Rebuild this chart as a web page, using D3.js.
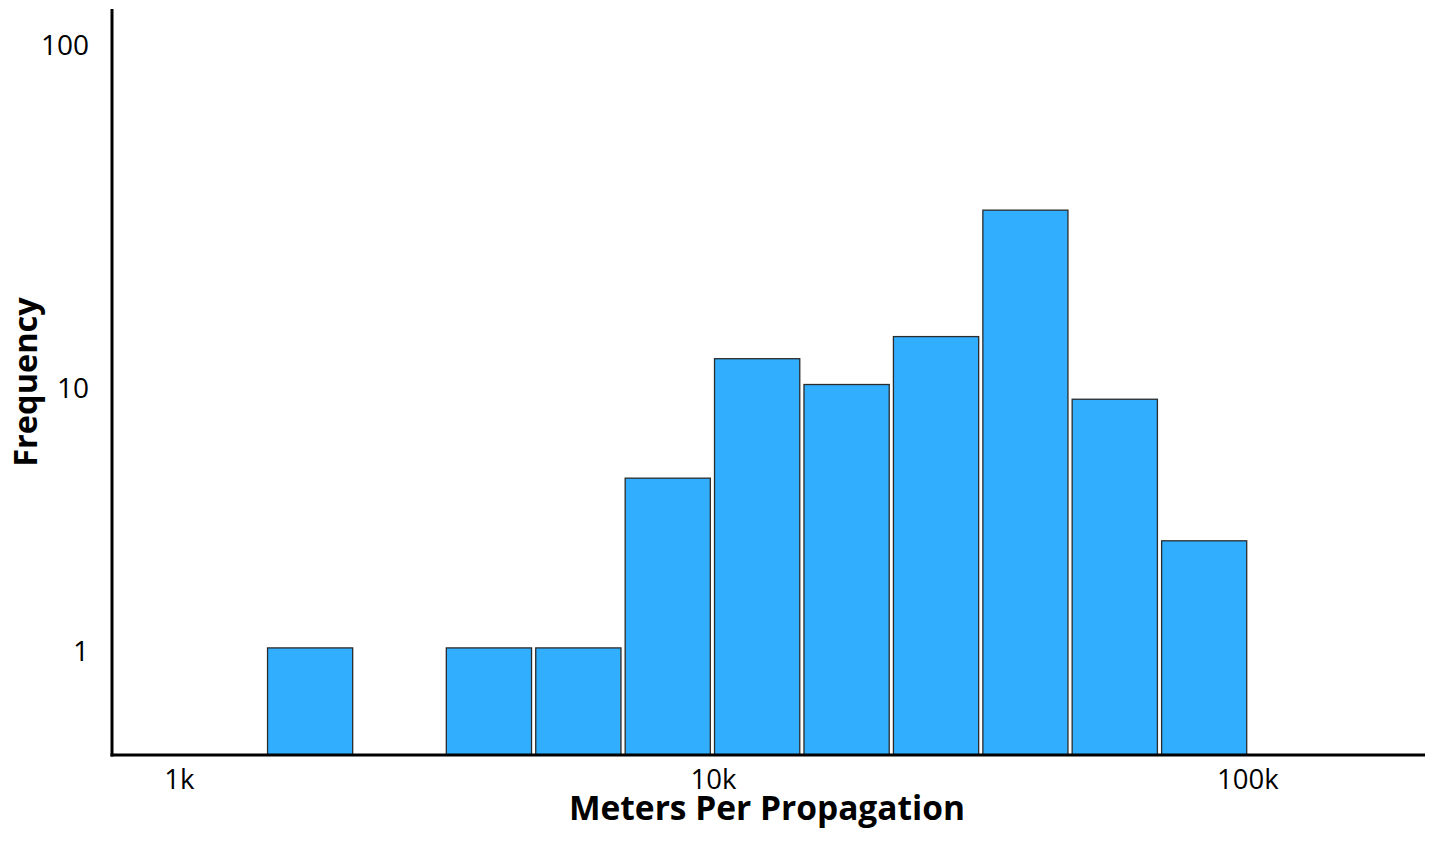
<!DOCTYPE html>
<html>
<head>
<meta charset="utf-8">
<script src="https://cdn.jsdelivr.net/npm/d3@7"></script>
<style>
  html, body { margin: 0; padding: 0; background: #fff; }
  svg { display: block; }
  text { font-family: "Open Sans", "Noto Sans", sans-serif; fill: #000; }
</style>
</head>
<body>
<svg id="chart" width="1432" height="846"></svg>
<script>
// Histogram bins (meters per propagation), log-spaced edges
const binEdges = [1463, 2150, 3161, 4647, 6832, 10041, 14764, 21708, 31917, 46895, 68955, 101316];
const counts   = [1, 0, 1, 1, 5, 12, 10, 14, 33, 9, 3];
const xTickValues = [1000, 10000, 100000];
const xTickLabels = ["1k", "10k", "100k"];
const yTickValues = [1, 10, 100];
const yTickLabels = ["1", "10", "100"];
const xTitle = "Meters Per Propagation";
const yTitle = "Frequency";

const svg = d3.select("#chart");
const plotLeft = 112, plotRight = 1425, plotBottom = 755, plotTop = 9;

const x = d3.scaleLog().domain([750, 215000]).range([plotLeft, plotRight]);
const y = d3.scaleSymlog().constant(1).domain([0, 124]).range([plotBottom, plotTop]);

const bins = counts.map((c, i) => ({ lo: binEdges[i], hi: binEdges[i + 1], count: c }))
  .filter(d => d.count > 0);

svg.append("g").selectAll("rect").data(bins).join("rect")
  .attr("x", d => x(d.lo) + 0.5)
  .attr("width", d => x(d.hi) - x(d.lo) - 4.2)
  .attr("y", d => y(d.count))
  .attr("height", d => y(0) - y(d.count))
  .attr("fill", "#31AEFE")
  .attr("stroke", "#2b2b2b")
  .attr("stroke-width", 1.3);

// Axes lines
svg.append("line").attr("x1", plotLeft).attr("x2", plotLeft).attr("y1", plotTop).attr("y2", plotBottom + 1.5)
  .attr("stroke", "#000").attr("stroke-width", 3);
svg.append("line").attr("x1", plotLeft - 1.5).attr("x2", plotRight).attr("y1", plotBottom).attr("y2", plotBottom)
  .attr("stroke", "#000").attr("stroke-width", 3);

// X axis via d3 axis (no tick lines)
const xAxis = d3.axisBottom(x).tickValues(xTickValues)
  .tickFormat((d, i) => xTickLabels[i]).tickSize(0).tickPadding(0);
const gx = svg.append("g").attr("transform", `translate(0,${plotBottom})`).call(xAxis);
gx.select(".domain").remove();
gx.selectAll("text").attr("dy", null).attr("y", 33.5)
  .style("font-family", '"Open Sans", sans-serif').style("font-size", "27.5px").attr("fill", "#000");

const yAxis = d3.axisLeft(y).tickValues(yTickValues)
  .tickFormat((d, i) => yTickLabels[i]).tickSize(0).tickPadding(0);
const gy = svg.append("g").attr("transform", `translate(89,0)`).call(yAxis);
gy.select(".domain").remove();
gy.selectAll("text").attr("dy", null).attr("y", 12.8).attr("x", 0)
  .style("font-family", '"Open Sans", sans-serif').style("font-size", "28px").attr("fill", "#000");

// Titles
svg.append("text").attr("x", 767).attr("y", 820).attr("text-anchor", "middle")
  .style("font-size", "33.5px").style("font-weight", "bold").text(xTitle);
svg.append("text").attr("transform", "translate(37,382) rotate(-90)").attr("text-anchor", "middle")
  .style("font-size", "32.5px").style("font-weight", "bold").text(yTitle);
</script>
</body>
</html>
